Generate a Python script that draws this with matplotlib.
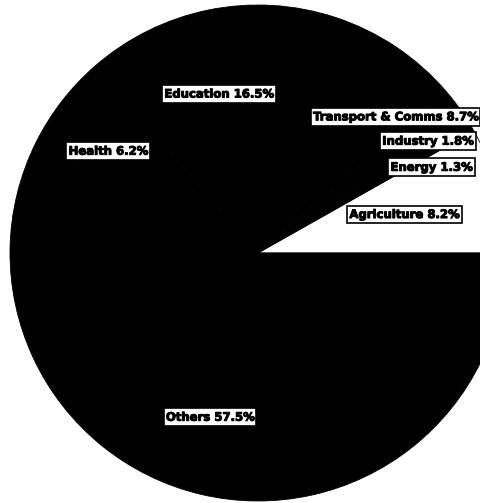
import numpy as np
import matplotlib
matplotlib.use("Agg")
import matplotlib.pyplot as plt
import matplotlib.patheffects as pe

# sector shares (%), counter-clockwise from 3 o'clock
sectors = ["Agriculture", "Energy", "Industry", "Transport & Comms",
           "Education", "Health", "Others"]
shares = [8.2, 1.3, 1.8, 8.7, 16.5, 6.2, 57.5]
colors = ["white", "black", "black", "black", "black", "black", "black"]

# label placement: (radius as fraction of pie radius, angle offset from wedge middle in degrees)
label_pos = [(0.61, 0.0), (0.78, -5.5), (0.82, -4.0), (0.78, -11.5),
             (0.66, 2.3), (0.73, 3.5), (0.69, -3.0)]

W, H = 481, 503
fig = plt.figure(figsize=(W / 100, H / 100), dpi=100)
ax = fig.add_axes([0, 0, 1, 1])

cx, cy, R = 258, H - 253, 248
wedges, _ = ax.pie(shares, colors=colors, startangle=0, counterclock=True,
                   radius=R, center=(cx, cy), normalize=True,
                   wedgeprops=dict(edgecolor="black", linewidth=0.6))

for w, name, val, (rf, da) in zip(wedges, sectors, shares, label_pos):
    ang = np.deg2rad((w.theta1 + w.theta2) / 2 + da)
    x = cx + rf * R * np.cos(ang)
    y = cy + rf * R * np.sin(ang)
    t = ax.text(x, y, "{} {}%".format(name, val), ha="center", va="center",
                fontsize=8.4, fontweight="bold", family="DejaVu Sans", color="black",
                bbox=dict(boxstyle="square,pad=0.2", facecolor="white",
                          edgecolor="black", linewidth=1.2))
    t.set_path_effects([pe.withStroke(linewidth=0.7, foreground="black")])

ax.set_xlim(0, W)
ax.set_ylim(0, H)
ax.set_aspect("equal")
ax.axis("off")
fig.savefig("out.png", dpi=100, facecolor="white")
